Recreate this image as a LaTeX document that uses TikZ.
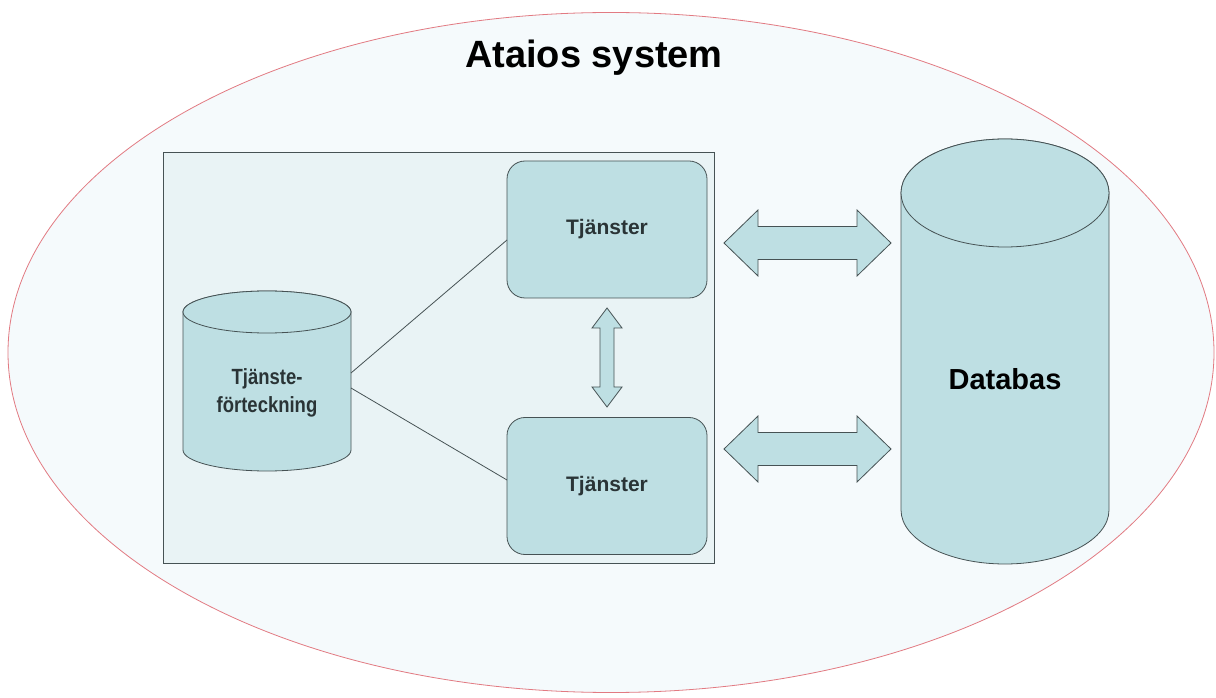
\documentclass[tikz,border=0pt]{standalone}
\usepackage{fontspec}
\setmainfont{Liberation Sans}
\newfontfamily\narrowfont[FakeStretch=0.84]{Liberation Sans}
\usetikzlibrary{positioning}

\begin{document}
\begin{tikzpicture}[x=1pt,y=1pt,
  panel/.style={draw=lineColor,line width=0.8pt,fill=boxColor},
  srvbox/.style={panel,rounded corners=18pt,minimum width=200pt,minimum height=137pt,
    inner sep=0pt,outer sep=0pt,text=txtColor,font=\bfseries\fontsize{21}{25}\selectfont},
  cylbody/.style={inner sep=0pt,outer sep=0pt},
  link/.style={draw=lineColor,line width=0.8pt}]
\definecolor{fillColor}{RGB}{255,255,255}
\definecolor{paleColor}{RGB}{245,250,252}
\definecolor{frameColor}{RGB}{233,243,245}
\definecolor{boxColor}{RGB}{190,223,227}
\definecolor{lineColor}{RGB}{70,82,84}
\definecolor{redColor}{RGB}{226,122,130}
\definecolor{txtColor}{RGB}{42,52,54}

\path[use as bounding box,fill=fillColor] (0,0) rectangle (1216,697);

% outer system
\path[draw=redColor,line width=0.8pt,fill=paleColor] (611,344.5) ellipse [x radius=603,y radius=340];
\node[text=black,anchor=base,inner sep=0pt,font=\bfseries\fontsize{38}{44}\selectfont] (title) at (594,629) {Ataios system};

% service frame
\path[draw=lineColor,line width=0.8pt,fill=frameColor] (163,134) rectangle (714,545);

\node[srvbox] (srvA) at (607,467.5) {Tjänster};
\node[srvbox] (srvB) at (607,211) {Tjänster};

% directory cylinder
\node[cylbody,minimum width=168pt,minimum height=138pt] (dir) at (267,316) {};
\path[panel] (dir.north west) -- (dir.south west)
  arc[start angle=180,end angle=360,x radius=84,y radius=21] -- (dir.north east)
  arc[start angle=0,end angle=180,x radius=84,y radius=21] -- cycle;
\path[panel] (dir.north) ellipse [x radius=84,y radius=21];
\node[text=txtColor,align=center,inner sep=0pt,font=\narrowfont\bfseries\fontsize{22}{28}\selectfont] (dirtext) at (267,304) {Tjänste-\\förteckning};

\path[link] ([yshift=8]dir.east) -- ([yshift=-10.5]srvA.west);
\path[link] ([yshift=-7]dir.east) -- ([yshift=6]srvB.west);

% database cylinder
\node[cylbody,minimum width=208pt,minimum height=317pt] (db) at (1005,345.5) {};
\path[panel] (db.north west) -- (db.south west)
  arc[start angle=180,end angle=360,x radius=104,y radius=54] -- (db.north east)
  arc[start angle=0,end angle=180,x radius=104,y radius=54] -- cycle;
\path[panel] (db.north) ellipse [x radius=104,y radius=54];
\node[text=black,anchor=base,inner sep=0pt,font=\bfseries\fontsize{29}{34}\selectfont] (dbtext) at (1005,307) {Databas};

% double arrows
\path[panel] ([yshift=-10]srvA.south) -- ++(-15,-20) -- ++(8,0) -- ++(0,-59) -- ++(-8,0)
  -- ++(15,-20) -- ++(15,20) -- ++(-8,0) -- ++(0,59) -- ++(8,0) -- cycle;

\path[panel] (724,454) -- ++(34,33) -- ++(0,-16.5) -- ++(99,0) -- ++(0,16.5) -- ++(34,-33)
  -- ++(-34,-33) -- ++(0,16.5) -- ++(-99,0) -- ++(0,-16.5) -- cycle;

\path[panel] (724,248) -- ++(34,33) -- ++(0,-16.5) -- ++(99,0) -- ++(0,16.5) -- ++(34,-33)
  -- ++(-34,-33) -- ++(0,16.5) -- ++(-99,0) -- ++(0,-16.5) -- cycle;
\end{tikzpicture}
\end{document}
